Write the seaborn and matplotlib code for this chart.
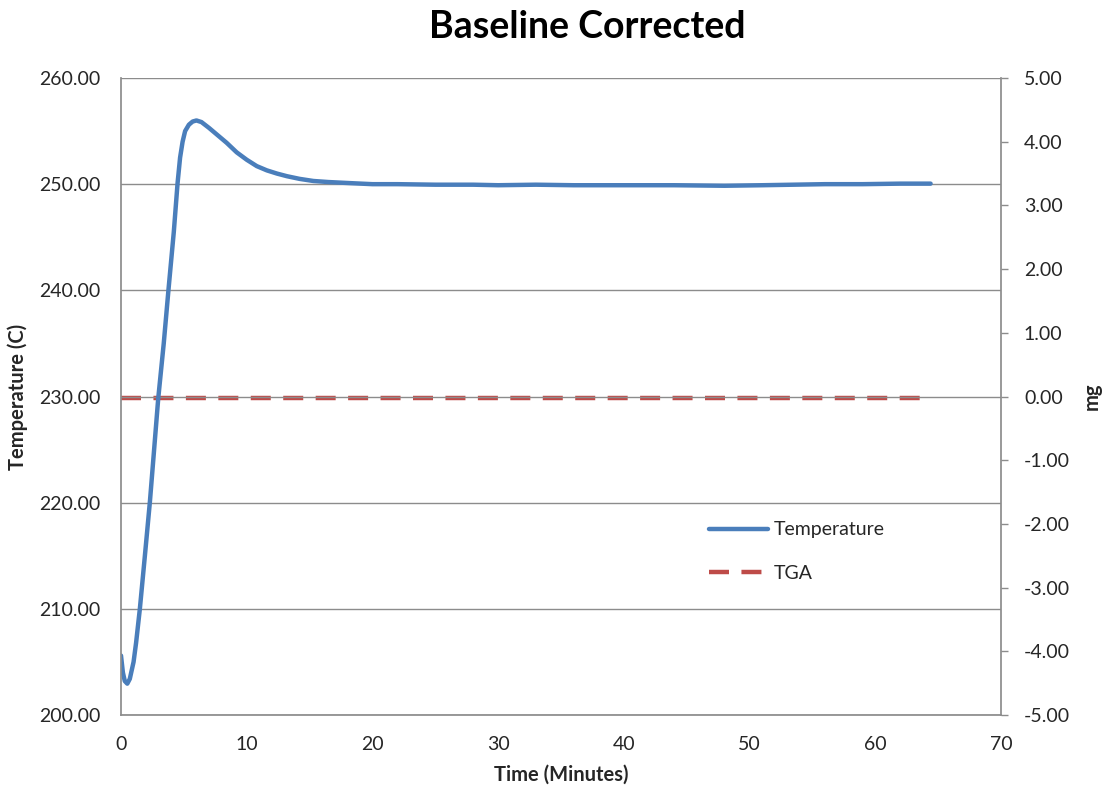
import matplotlib
matplotlib.use("Agg")
import matplotlib.pyplot as plt
import seaborn as sns
import pandas as pd
from matplotlib.ticker import FormatStrFormatter

# ---- data ----
time_min = [0.0, 0.15, 0.3, 0.5, 0.7, 1.0, 1.2, 1.5, 1.9, 2.3, 2.6, 2.96, 3.4, 3.78,
            4.2, 4.5, 4.7, 4.9, 5.1, 5.4, 5.7, 6.0, 6.4, 7.0, 7.7, 8.4, 9.2, 10.0,
            10.8, 11.6, 12.4, 13.2, 14.2, 15.3, 16.5, 18.2, 20.0, 22.0, 25.0, 28.0,
            30.0, 33.0, 36.0, 40.0, 44.0, 48.0, 51.0, 53.5, 56.0, 59.0, 62.0, 64.4]
temperature = [205.6, 204.0, 203.2, 202.95, 203.4, 205.0, 206.8, 210.0, 215.0, 220.1,
               224.5, 229.8, 235.0, 240.1, 245.5, 250.1, 252.5, 254.0, 255.0, 255.6,
               255.9, 256.0, 255.85, 255.3, 254.6, 253.9, 253.0, 252.3, 251.7, 251.3,
               251.0, 250.75, 250.5, 250.3, 250.2, 250.1, 250.0, 250.0, 249.95, 249.95,
               249.9, 249.95, 249.9, 249.9, 249.9, 249.85, 249.9, 249.95, 250.0, 250.0,
               250.05, 250.05]
tga_time = [0.0, 64.4]
tga_mg = [-0.02, -0.02]

x_ticks = [0, 10, 20, 30, 40, 50, 60, 70]
left_ticks = [200, 210, 220, 230, 240, 250, 260]
right_ticks = [-5, -4, -3, -2, -1, 0, 1, 2, 3, 4, 5]

sns.set_theme(style="white")
plt.rcParams['font.family'] = ['Lato', 'DejaVu Sans']

W, H = 1102, 789
fig = plt.figure(figsize=(W / 100, H / 100), dpi=100)
ax = fig.add_axes([121/W, 1-715/H, (1001-121)/W, (715-78)/H])
ax2 = ax.twinx()

df_t = pd.DataFrame({"Time": time_min, "Temperature": temperature})
df_g = pd.DataFrame({"Time": tga_time, "TGA": tga_mg})

blue = "#4A7EBB"
red = "#BE4B48"
grid_c = "#8C8C8C"

sns.lineplot(data=df_t, x="Time", y="Temperature", ax=ax, color=blue, lw=3.2,
             label="Temperature", legend=False)
sns.lineplot(data=df_g, x="Time", y="TGA", ax=ax2, color=red, lw=3.2,
             dashes=False, label="TGA", legend=False)
ax.lines[0].set_solid_joinstyle('round')
ax2.lines[0].set_dashes([4.5, 2.8])

ax.set_xlim(0, 70)
ax.set_ylim(200, 260)
ax2.set_ylim(-5, 5)
ax.set_xticks(x_ticks)
ax.set_yticks(left_ticks)
ax2.set_yticks(right_ticks)
ax.yaxis.set_major_formatter(FormatStrFormatter('%.2f'))
ax2.yaxis.set_major_formatter(FormatStrFormatter('%.2f'))

ax.grid(axis='y', color=grid_c, lw=1.0)
ax.grid(axis='x', visible=False)
ax.set_axisbelow(True)
ax2.grid(False)
ax.set_zorder(ax2.get_zorder() + 1)
ax.patch.set_visible(False)

for a in (ax, ax2):
    for s in a.spines.values():
        s.set_visible(False)
ax.spines['left'].set_visible(True)
ax.spines['left'].set_color(grid_c)
ax.spines['bottom'].set_visible(True)
ax.spines['bottom'].set_color(grid_c)
ax2.spines['right'].set_visible(True)
ax2.spines['right'].set_color(grid_c)

tick_c = "#262626"
ax.tick_params(axis='x', labelsize=14, colors=tick_c, length=0, pad=15)
ax.tick_params(axis='y', labelsize=14, colors=tick_c, length=0, pad=15)
ax2.tick_params(axis='y', labelsize=14, colors=tick_c, direction='out', length=5,
                width=1, color=grid_c, pad=11.5)

ax.set_xlabel("Time (Minutes)", fontsize=14.5, fontweight='bold')
ax.xaxis.set_label_coords(0.5, 1 - (775 - 78) / (715 - 78))
ax.xaxis.label.set_va('center')
ax.set_ylabel("Temperature (C)", fontsize=14.5, fontweight='bold', va='center')
ax.yaxis.set_label_coords((18 - 121) / 880, 0.5)
ax2.set_ylabel("mg", fontsize=14.5, fontweight='bold', va='center')
ax2.yaxis.set_label_coords((1092 - 121) / 880, 0.5)

fig.text(587 / W, 1 - 27 / H, "Baseline Corrected", fontsize=27, fontweight='bold',
         ha='center', va='center', color='black')

h1, l1 = ax.get_legend_handles_labels()
h2, l2 = ax2.get_legend_handles_labels()
leg = ax.legend(h1 + h2, l1 + l2, loc='upper left', bbox_to_anchor=(692/W, 1-504/H),
                bbox_transform=fig.transFigure, frameon=False, fontsize=14,
                handlelength=3.0, handletextpad=0.3, labelspacing=1.35)

fig.savefig("out.png", dpi=100)
